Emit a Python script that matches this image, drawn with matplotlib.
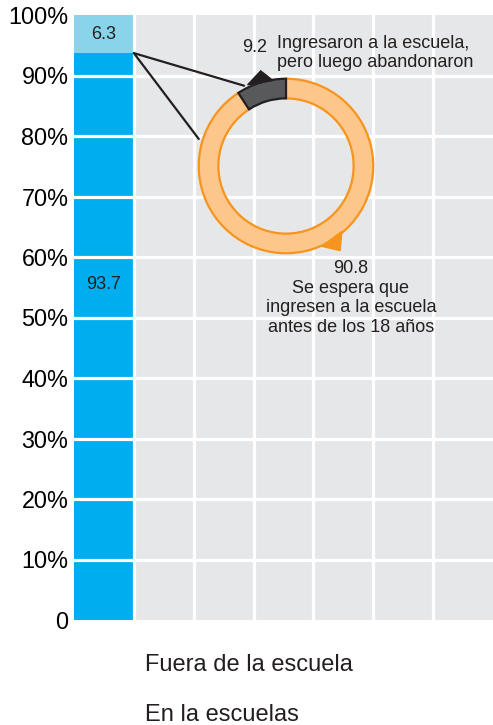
import matplotlib.pyplot as plt
from matplotlib.patches import Polygon, ConnectionPatch
import matplotlib as m

m.rcParams['font.family'] = 'Liberation Sans'
m.rcParams['text.color'] = '#231F20'

# data
bar_labels = ["En la escuelas", "Fuera de la escuela"]
bar_values = [93.7, 6.3]
bar_colors = ['#00AEEF', '#8AD4EB']
ring_labels = ["Ingresaron a la escuela,\npero luego abandonaron",
               "Se espera que\ningresen a la escuela\nantes de los 18 años"]
ring_values = [9.2, 90.8]
ytick_vals = [0, 10, 20, 30, 40, 50, 60, 70, 80, 90, 100]
ytick_labels = ['0', '10%', '20%', '30%', '40%', '50%', '60%', '70%', '80%', '90%', '100%']
ncols = 7

W, H = 493, 725
def px(x, y):
    return x / W, 1 - y / H

fig = plt.figure(figsize=(W / 100, H / 100), dpi=100)
ax = fig.add_axes([74 / W, 1 - 620 / H, 419 / W, 605 / H])
ax.set_facecolor('#E6E7E8')

bottom = 0
for v, c in zip(bar_values, bar_colors):
    ax.bar(0, v, width=1.0, bottom=bottom, color=c, zorder=1)
    ax.text(0, bottom + v / 2 if v < 10 else 55.4, f'{v}', ha='center', va='center',
            fontsize=13, zorder=4)
    bottom += v

for y in ytick_vals[1:-1]:
    ax.axhline(y, color='white', lw=2.3, zorder=2.5)
for i in range(ncols - 1):
    ax.axvline(i + 0.5, color='white', lw=2.3, zorder=2.5)

ax.set_xlim(-0.5, ncols - 0.5)
ax.set_ylim(0, 100)
ax.set_xticks([])
ax.set_yticks(ytick_vals)
ax.set_yticklabels(ytick_labels, fontsize=16.8)
ax.tick_params(axis='y', length=0, pad=4)
for s in ax.spines.values():
    s.set_visible(False)

# donut
dx = fig.add_axes([197 / W, 1 - 255 / H, 178 / W, 178 / H])
wedges, _ = dx.pie(ring_values, startangle=90, counterclock=True, radius=1,
                   colors=['#58595B', '#FDC68A'],
                   wedgeprops=dict(width=0.225))
wedges[0].set_edgecolor('#231F20')
wedges[0].set_linewidth(1.6)
wedges[0].set_zorder(3)
wedges[1].set_edgecolor('#F7941D')
wedges[1].set_linewidth(1.6)
dx.set_xlim(-1.02, 1.02)
dx.set_ylim(-1.02, 1.02)
dx.axis('off')
dx.add_patch(Polygon([(-0.29, 1.09), (-0.44, 0.93), (-0.15, 0.98)], closed=True,
                     color='#231F20', zorder=4, clip_on=False))
dx.add_patch(Polygon([(0.64, -0.75), (0.62, -0.97), (0.41, -0.92)], closed=True,
                     color='#F7941D', zorder=4, clip_on=False))

for end in [(-0.48, 0.92), (-1.0, 0.31)]:
    con = ConnectionPatch(xyA=(0.5, 93.7), coordsA=ax.transData,
                          xyB=end, coordsB=dx.transData,
                          color='#231F20', lw=1.6, zorder=5)
    fig.add_artist(con)

fig.text(*px(255, 47), f'{ring_values[0]}', ha='center', va='center', fontsize=13)
fig.text(*px(277, 53), ring_labels[0], ha='left', va='center', fontsize=13,
         linespacing=1.15)
fig.text(*px(351, 298), f'{ring_values[1]}\n' + ring_labels[1], ha='center',
         va='center', fontsize=13, linespacing=1.18)

# legend (text only)
fig.text(*px(145, 665), bar_labels[1], ha='left', va='center', fontsize=17)
fig.text(*px(145, 715), bar_labels[0], ha='left', va='center', fontsize=17)

fig.savefig('out.png', dpi=100)
